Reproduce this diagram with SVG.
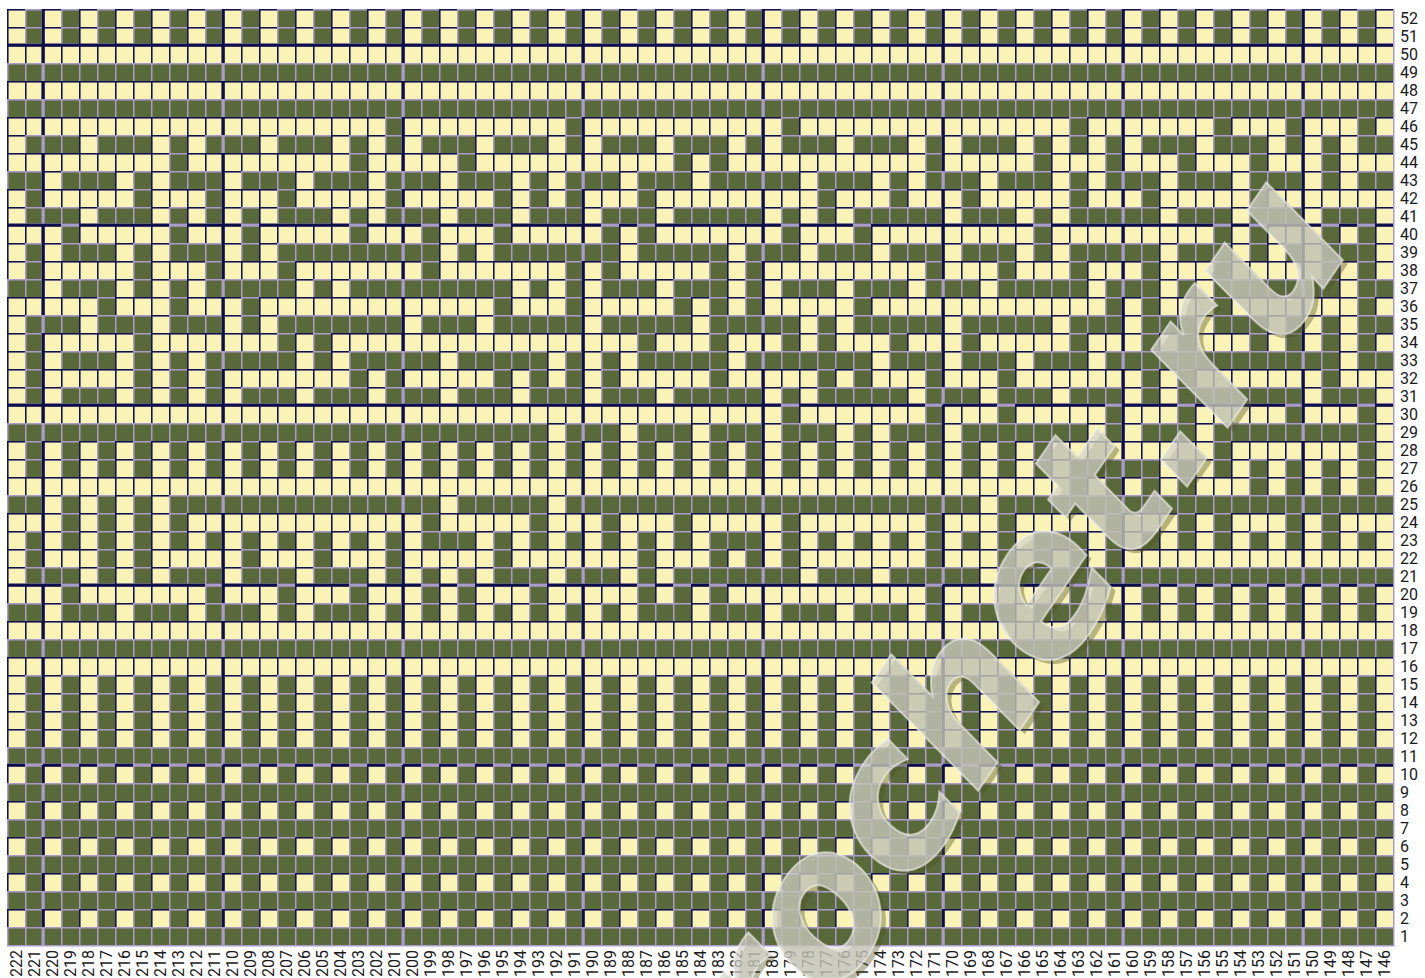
<svg xmlns="http://www.w3.org/2000/svg" width="1425" height="978" viewBox="0 0 1425 978">
<style>
.lb{font-family:Roboto,"Liberation Sans",sans-serif;font-size:16px;fill:#1a1a1a}
</style>
<defs>
<pattern id="pl" patternUnits="userSpaceOnUse" x="7" y="9" width="18" height="18"><path d="M0 .75H18M.75 0V18" fill="none" stroke="#a99bca" stroke-width="1.5"/></pattern>
<pattern id="pd" patternUnits="userSpaceOnUse" x="7" y="9" width="18" height="18"><path d="M0 .75H18M.75 0V18" fill="none" stroke="#13134a" stroke-width="1.5"/></pattern>
<g id="Y" transform="translate(7 9) scale(18)" fill="none" stroke-width="1">
<path d="M0 2.5H77M0 4.5H77M0 6.5H77M0 8.5H77M0 10.5H77M0 12.5H77M0 14.5H77M0 16.5H77M0 18.5H77M0 20.5H77M0 22.5H77M0 24.5H77M0 26.5H77M0 28.5H77M0 30.5H77M0 32.5H77M0 34.5H77M0 36.5H77"/>
<path stroke-dasharray="1 1" d="M0 .5H77M0 1.5H77M0 37.5H77M0 38.5H77M0 39.5H77M0 40.5H77M0 42.5H77M0 44.5H77M0 46.5H77M0 48.5H77M0 50.5H77
M0 7.5h1M4 7.5h1M8 7.5H11M14 7.5h1M18 7.5H23M26 7.5h1M30 7.5H33M36 7.5h1M40 7.5H43M46 7.5h1M50 7.5H53M56 7.5H63M66 7.5h1M70 7.5H75
M2 9.5h1M6 9.5H9M12 9.5h1M16 9.5h1M20 9.5h1M24 9.5h1M28 9.5H31M34 9.5h1M38 9.5h1M44 9.5h1M48 9.5H51M54 9.5h1M58 9.5H61M64 9.5h1M68 9.5h1M72 9.5H75
M0 11.5h1M4 11.5h1M8 11.5H15M18 11.5H21M24 11.5h1M28 11.5h1M32 11.5h1M36 11.5h1M42 11.5H47M52 11.5h1M56 11.5H59M64 11.5h1M68 11.5h1M72 11.5h1M76 11.5h1
M0 13.5H3M6 13.5H9M12 13.5H15M24 13.5H27M34 13.5h1M40 13.5h1M44 13.5h1M48 13.5h1M52 13.5h1M56 13.5H59M64 13.5h1M68 13.5H73M76 13.5h1
M2 15.5h1M6 15.5H11M16 15.5H19M28 15.5H33M36 15.5h1M40 15.5H43M46 15.5h1M50 15.5h1M54 15.5h1M60 15.5h1M64 15.5H67M74 15.5h1
M0 17.5h1M4 17.5h1M8 17.5h1M12 17.5H15M22 17.5h1M26 17.5h1M32 17.5h1M38 17.5h1M44 17.5H47M52 17.5h1M58 17.5h1M62 17.5h1M66 17.5h1M70 17.5H75
M0 19.5H3M6 19.5H11M16 19.5H19M24 19.5h1M30 19.5H35M40 19.5h1M48 19.5h1M52 19.5h1M56 19.5h1M60 19.5h1M74 19.5h1
M0 21.5H3M6 21.5H13M16 21.5h1M20 21.5h1M24 21.5h1M28 21.5h1M32 21.5h1M36 21.5h1M42 21.5H45M50 21.5h1M54 21.5h1M58 21.5h1M62 21.5H65M72 21.5h1M76 21.5h1
M30 23.5h1M34 23.5h1M38 23.5h1M42 23.5h1M46 23.5H49M52 23.5h1M60 23.5H63M66 23.5h1M76 23.5h1
M0 25.5H59M64 25.5H77
M2 27.5H9M24 27.5h1M30 27.5h1M54 27.5h1
M0 29.5H23M26 29.5H39M42 29.5H57M60 29.5H77
M0 31.5h1M4 31.5H9M12 31.5h1M16 31.5h1M20 31.5H27M30 31.5h1M34 31.5H37M44 31.5h1M48 31.5h1M54 31.5h1
M2 33.5h1M6 33.5h1M10 33.5h1M14 33.5H17M20 33.5H35M38 33.5h1M42 33.5h1M46 33.5h1M50 33.5H53M56 33.5h1M60 33.5H77"/>
</g>
<g id="G" transform="translate(7 9) scale(18)" fill="none" stroke-width="1">
<path stroke-dasharray="1 1" d="M21 6.5h1M31 6.5h1M43 6.5h1M59 6.5h1M67 6.5h1M71 6.5h1M75 6.5h1
M9 8.5h1M19 8.5h1M25 8.5h1M37 8.5H40M51 8.5h1M57 8.5h1M61 8.5h1M65 8.5h1M69 8.5h1M73 8.5h1
M1 10.5h1M7 10.5h1M11 10.5h1M15 10.5h1M21 10.5h1M27 10.5H32M35 10.5h1M45 10.5h1M49 10.5h1M53 10.5h1M59 10.5h1M63 10.5h1M69 10.5h1
M3 12.5h1M9 12.5h1M13 12.5h1M19 12.5h1M23 12.5h1M27 12.5h1M33 12.5H36M43 12.5h1M47 12.5h1M57 12.5h1M67 12.5H70M73 12.5H76
M1 14.5h1M7 14.5h1M11 14.5h1M15 14.5h1M23 14.5h1M31 14.5H34M39 14.5H42M51 14.5h1M55 14.5h1M59 14.5h1M63 14.5h1M67 14.5h1M73 14.5H76
M5 16.5h1M9 16.5h1M13 16.5h1M27 16.5h1M31 16.5h1M37 16.5H42M47 16.5h1M61 16.5H64M67 16.5h1M75 16.5h1
M1 18.5h1M7 18.5h1M15 18.5H18M35 18.5h1M39 18.5h1M43 18.5H46M49 18.5h1M53 18.5h1M59 18.5h1M63 18.5H66M69 18.5H76
M1 20.5h1M7 20.5H12M19 20.5H22M27 20.5H34M39 20.5h1M45 20.5H48M51 20.5h1M55 20.5h1M63 20.5H66M73 20.5h1
M43 22.5h1M51 22.5h1M55 22.5h1M61 22.5h1M65 22.5h1M71 22.5h1M75 22.5h1
M1 24.5H58M67 24.5h1M75 24.5h1
M59 26.5H66M69 26.5H76
M3 28.5H10M23 28.5h1M29 28.5h1M33 28.5h1M37 28.5h1M43 28.5h1M51 28.5h1M55 28.5h1M61 28.5h1M65 28.5H68M71 28.5H74
M1 30.5h1M5 30.5H8M13 30.5h1M17 30.5h1M21 30.5h1M27 30.5h1M35 30.5h1M39 30.5H44M51 30.5h1M55 30.5H62
M3 32.5h1M11 32.5h1M15 32.5h1M19 32.5h1M23 32.5H26M29 32.5h1M35 32.5H40M51 32.5h1M59 32.5h1M63 32.5H76"/>
</g>
<mask id="m0" maskUnits="userSpaceOnUse" x="0" y="0" width="1425" height="978"><use href="#Y" stroke="#fff"/><use href="#G" stroke="#000"/></mask>
<mask id="mx" maskUnits="userSpaceOnUse" x="0" y="0" width="1425" height="978"><g transform="translate(-1.5 0)"><use href="#Y" stroke="#fff"/><use href="#G" stroke="#000"/></g></mask>
<mask id="my" maskUnits="userSpaceOnUse" x="0" y="0" width="1425" height="978"><g transform="translate(0 -1.5)"><use href="#Y" stroke="#fff"/><use href="#G" stroke="#000"/></g></mask>
</defs>
<rect width="1425" height="978" fill="#fff"/>
<g id="chart">
<rect x="7" y="9" width="1386" height="936" fill="#59693a"/>
<use href="#Y" stroke="#faf3b6"/>
<use href="#G" stroke="#59693a"/>
<rect x="7" y="9" width="1386" height="936" fill="url(#pl)"/>
<path d="M43 9V945M223 9V945M403 9V945M583 9V945M763 9V945M943 9V945M1123 9V945M1303 9V945M7 45H1393M7 225H1393M7 405H1393M7 585H1393M7 765H1393" stroke="#a99bca" stroke-width="3" fill="none"/>
<rect x="7" y="9" width="1386" height="936" fill="url(#pd)" mask="url(#m0)"/>
<path d="M43 9V945M223 9V945M403 9V945M583 9V945M763 9V945M943 9V945M1123 9V945M1303 9V945" stroke="#0d0d48" stroke-width="3" fill="none" mask="url(#mx)"/>
<path d="M7 45H1393M7 225H1393M7 405H1393M7 585H1393M7 765H1393" stroke="#0d0d48" stroke-width="3" fill="none" mask="url(#my)"/>
<path d="M1393.75 9V946.5M7 945.75H1394" stroke="#a99bca" stroke-width="1.5" fill="none"/>
</g>
<g id="row-labels" class="lb">
<text x="1400" y="23.5">52</text><text x="1400" y="41.5">51</text><text x="1400" y="59.5">50</text><text x="1400" y="77.5">49</text><text x="1400" y="95.5">48</text><text x="1400" y="113.5">47</text><text x="1400" y="131.5">46</text><text x="1400" y="149.5">45</text><text x="1400" y="167.5">44</text><text x="1400" y="185.5">43</text><text x="1400" y="203.5">42</text><text x="1400" y="221.5">41</text><text x="1400" y="239.5">40</text><text x="1400" y="257.5">39</text><text x="1400" y="275.5">38</text><text x="1400" y="293.5">37</text><text x="1400" y="311.5">36</text><text x="1400" y="329.5">35</text><text x="1400" y="347.5">34</text><text x="1400" y="365.5">33</text><text x="1400" y="383.5">32</text><text x="1400" y="401.5">31</text><text x="1400" y="419.5">30</text><text x="1400" y="437.5">29</text><text x="1400" y="455.5">28</text><text x="1400" y="473.5">27</text><text x="1400" y="491.5">26</text><text x="1400" y="509.5">25</text><text x="1400" y="527.5">24</text><text x="1400" y="545.5">23</text><text x="1400" y="563.5">22</text><text x="1400" y="581.5">21</text><text x="1400" y="599.5">20</text><text x="1400" y="617.5">19</text><text x="1400" y="635.5">18</text><text x="1400" y="653.5">17</text><text x="1400" y="671.5">16</text><text x="1400" y="689.5">15</text><text x="1400" y="707.5">14</text><text x="1400" y="725.5">13</text><text x="1400" y="743.5">12</text><text x="1400" y="761.5">11</text><text x="1400" y="779.5">10</text><text x="1400" y="797.5">9</text><text x="1400" y="815.5">8</text><text x="1400" y="833.5">7</text><text x="1400" y="851.5">6</text><text x="1400" y="869.5">5</text><text x="1400" y="887.5">4</text><text x="1400" y="905.5">3</text><text x="1400" y="923.5">2</text><text x="1400" y="941.5">1</text>
</g>
<g id="col-labels" class="lb" transform="rotate(-90)" text-anchor="end">
<text x="-950" y="21.5">222</text><text x="-950" y="39.5">221</text><text x="-950" y="57.5">220</text><text x="-950" y="75.5">219</text><text x="-950" y="93.5">218</text><text x="-950" y="111.5">217</text><text x="-950" y="129.5">216</text><text x="-950" y="147.5">215</text><text x="-950" y="165.5">214</text><text x="-950" y="183.5">213</text><text x="-950" y="201.5">212</text><text x="-950" y="219.5">211</text><text x="-950" y="237.5">210</text><text x="-950" y="255.5">209</text><text x="-950" y="273.5">208</text><text x="-950" y="291.5">207</text><text x="-950" y="309.5">206</text><text x="-950" y="327.5">205</text><text x="-950" y="345.5">204</text><text x="-950" y="363.5">203</text><text x="-950" y="381.5">202</text><text x="-950" y="399.5">201</text><text x="-950" y="417.5">200</text><text x="-950" y="435.5">199</text><text x="-950" y="453.5">198</text><text x="-950" y="471.5">197</text><text x="-950" y="489.5">196</text><text x="-950" y="507.5">195</text><text x="-950" y="525.5">194</text><text x="-950" y="543.5">193</text><text x="-950" y="561.5">192</text><text x="-950" y="579.5">191</text><text x="-950" y="597.5">190</text><text x="-950" y="615.5">189</text><text x="-950" y="633.5">188</text><text x="-950" y="651.5">187</text><text x="-950" y="669.5">186</text><text x="-950" y="687.5">185</text><text x="-950" y="705.5">184</text><text x="-950" y="723.5">183</text><text x="-950" y="741.5">182</text><text x="-950" y="759.5">181</text><text x="-950" y="777.5">180</text><text x="-950" y="795.5">179</text><text x="-950" y="813.5">178</text><text x="-950" y="831.5">177</text><text x="-950" y="849.5">176</text><text x="-950" y="867.5">175</text><text x="-950" y="885.5">174</text><text x="-950" y="903.5">173</text><text x="-950" y="921.5">172</text><text x="-950" y="939.5">171</text><text x="-950" y="957.5">170</text><text x="-950" y="975.5">169</text><text x="-950" y="993.5">168</text><text x="-950" y="1011.5">167</text><text x="-950" y="1029.5">166</text><text x="-950" y="1047.5">165</text><text x="-950" y="1065.5">164</text><text x="-950" y="1083.5">163</text><text x="-950" y="1101.5">162</text><text x="-950" y="1119.5">161</text><text x="-950" y="1137.5">160</text><text x="-950" y="1155.5">159</text><text x="-950" y="1173.5">158</text><text x="-950" y="1191.5">157</text><text x="-950" y="1209.5">156</text><text x="-950" y="1227.5">155</text><text x="-950" y="1245.5">154</text><text x="-950" y="1263.5">153</text><text x="-950" y="1281.5">152</text><text x="-950" y="1299.5">151</text><text x="-950" y="1317.5">150</text><text x="-950" y="1335.5">149</text><text x="-950" y="1353.5">148</text><text x="-950" y="1371.5">147</text><text x="-950" y="1389.5">146</text>
</g>
<g id="watermark" font-family="'DejaVu Sans',sans-serif" font-style="italic" font-weight="bold" font-size="196">
<text transform="translate(717 1182) rotate(-55.5)" fill="#4f5224" fill-opacity=".4">crochet.ru</text>
<text transform="translate(712 1178) rotate(-55.5)" fill="#d3d3cb" fill-opacity=".72" stroke="#f2f2ec" stroke-opacity=".6" stroke-width="2">crochet.ru</text>
</g>
</svg>
